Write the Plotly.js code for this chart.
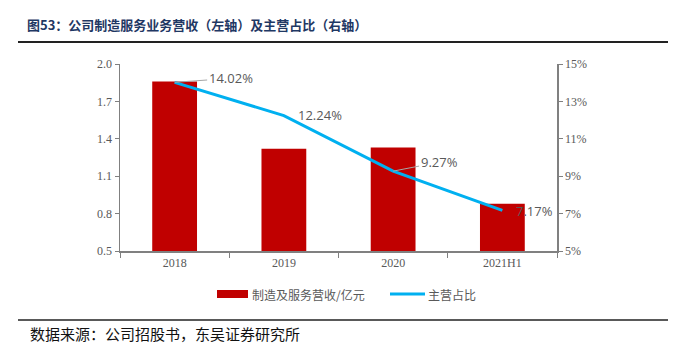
<!DOCTYPE html>
<html><head><meta charset="utf-8">
<script src="https://cdn.plot.ly/plotly-3.0.1.min.js"></script>
<style>html,body{margin:0;padding:0;background:#fff;}#chart{width:683px;height:353px;}</style>
</head><body><div id="chart"></div>
<script>
const categories = ['2018', '2019', '2020', '2021H1'];
const revenue = [1.86, 1.32, 1.33, 0.88];          // 制造及服务营收/亿元 (left axis)
const share = [14.02, 12.24, 9.27, 7.17];           // 主营占比 % (right axis)
const shareLabels = ['14.02%', '12.24%', '9.27%', '7.17%'];
const leftTicks = [0.5, 0.8, 1.1, 1.4, 1.7, 2.0];
const rightTicks = [5, 7, 9, 11, 13, 15];
const rightTickText = ['5%', '7%', '9%', '11%', '13%', '15%'];
const seriesNames = ['制造及服务营收/亿元', '主营占比'];

const L = 120, R = 557, T = 64, B = 251;
const px = p => (p - L) / (R - L);
const py = q => (B - q) / (B - T);

const labelFont = {family: 'Open Sans, Noto Sans, sans-serif', size: 13, color: '#595959'};
const labelCfg = [
  {ax: 56, ay: -4, arrow: true},
  {xshift: 12, yshift: 1, arrow: false},
  {ax: 46, ay: -9, arrow: true},
  {xshift: 12, yshift: -1, arrow: false}
];
const annotations = share.map((v, i) => {
  const c = labelCfg[i];
  const a = {x: i, y: v, xref: 'x', yref: 'y2', text: shareLabels[i], font: labelFont};
  if (c.arrow) {
    Object.assign(a, {showarrow: true, arrowhead: 0, arrowwidth: 1, arrowcolor: '#A6A6A6', ax: c.ax, ay: c.ay, standoff: 0});
  } else {
    Object.assign(a, {showarrow: false, xanchor: 'left', xshift: c.xshift, yshift: c.yshift});
  }
  return a;
});
const legendFont = {family: 'Noto Sans CJK SC, sans-serif', size: 12, color: '#595959'};
annotations.push(
  {xref: 'paper', yref: 'paper', x: px(250), y: py(294), xanchor: 'left', yanchor: 'middle',
   text: seriesNames[0], showarrow: false, font: legendFont},
  {xref: 'paper', yref: 'paper', x: px(426), y: py(294), xanchor: 'left', yanchor: 'middle',
   text: seriesNames[1], showarrow: false, font: legendFont},
  {xref: 'paper', yref: 'paper', x: px(28), y: py(333), xanchor: 'left', yanchor: 'middle',
   text: '数据来源：公司招股书，东吴证券研究所', showarrow: false,
   font: {family: 'Noto Sans CJK SC, sans-serif', size: 15, color: '#111'}}
);

const data = [
  {type: 'bar', x: categories, y: revenue, name: seriesNames[0], yaxis: 'y',
   marker: {color: '#C00000'}},
  {type: 'scatter', mode: 'lines', x: categories, y: share, name: seriesNames[1], yaxis: 'y2',
   line: {color: '#00B0F0', width: 3}}
];

const axisCommon = {showgrid: false, zeroline: false, showline: true, linecolor: '#808080', linewidth: 1.5,
  ticks: 'outside', ticklen: 4, tickcolor: '#808080',
  tickfont: {family: 'Liberation Serif, serif', size: 12, color: '#595959'}};

const layout = {
  width: 683, height: 353,
  margin: {l: L, r: 683 - R, t: T, b: 353 - B},
  paper_bgcolor: '#fff', plot_bgcolor: '#fff',
  bargap: 0.59,
  title: {text: '<b>图53：公司制造服务业务营收（左轴）及主营占比（右轴）</b>', xref: 'container', yref: 'container',
    x: 27 / 683, y: 1 - 25 / 353, xanchor: 'left', yanchor: 'middle',
    font: {family: 'Noto Sans CJK SC, sans-serif', size: 13, color: '#1F3864'}},
  xaxis: Object.assign({}, axisCommon, {type: 'category', range: [-0.5, 3.5], tickson: 'boundaries', ticklen: 5, tickangle: 0}),
  yaxis: Object.assign({}, axisCommon, {range: [0.5, 2.0], tickvals: leftTicks, tickformat: '.1f'}),
  yaxis2: Object.assign({}, axisCommon, {overlaying: 'y', side: 'right', range: [5, 15], tickvals: rightTicks, ticktext: rightTickText, tickmode: 'array'}),
  showlegend: false,
  shapes: [
    {type: 'line', xref: 'paper', yref: 'paper', x0: px(18), x1: px(668), y0: py(42), y1: py(42), line: {color: '#222', width: 2}},
    {type: 'line', xref: 'paper', yref: 'paper', x0: px(18), x1: px(668), y0: py(320), y1: py(320), line: {color: '#222', width: 1.5}},
    {type: 'rect', xref: 'paper', yref: 'paper', x0: px(217), x1: px(248), y0: py(290), y1: py(298), line: {width: 0}, fillcolor: '#C00000'},
    {type: 'line', xref: 'paper', yref: 'paper', x0: px(390), x1: px(425), y0: py(294), y1: py(294), line: {color: '#00B0F0', width: 3}}
  ],
  annotations: annotations
};

Plotly.newPlot('chart', data, layout, {displayModeBar: false, staticPlot: true});
</script>
</body></html>
